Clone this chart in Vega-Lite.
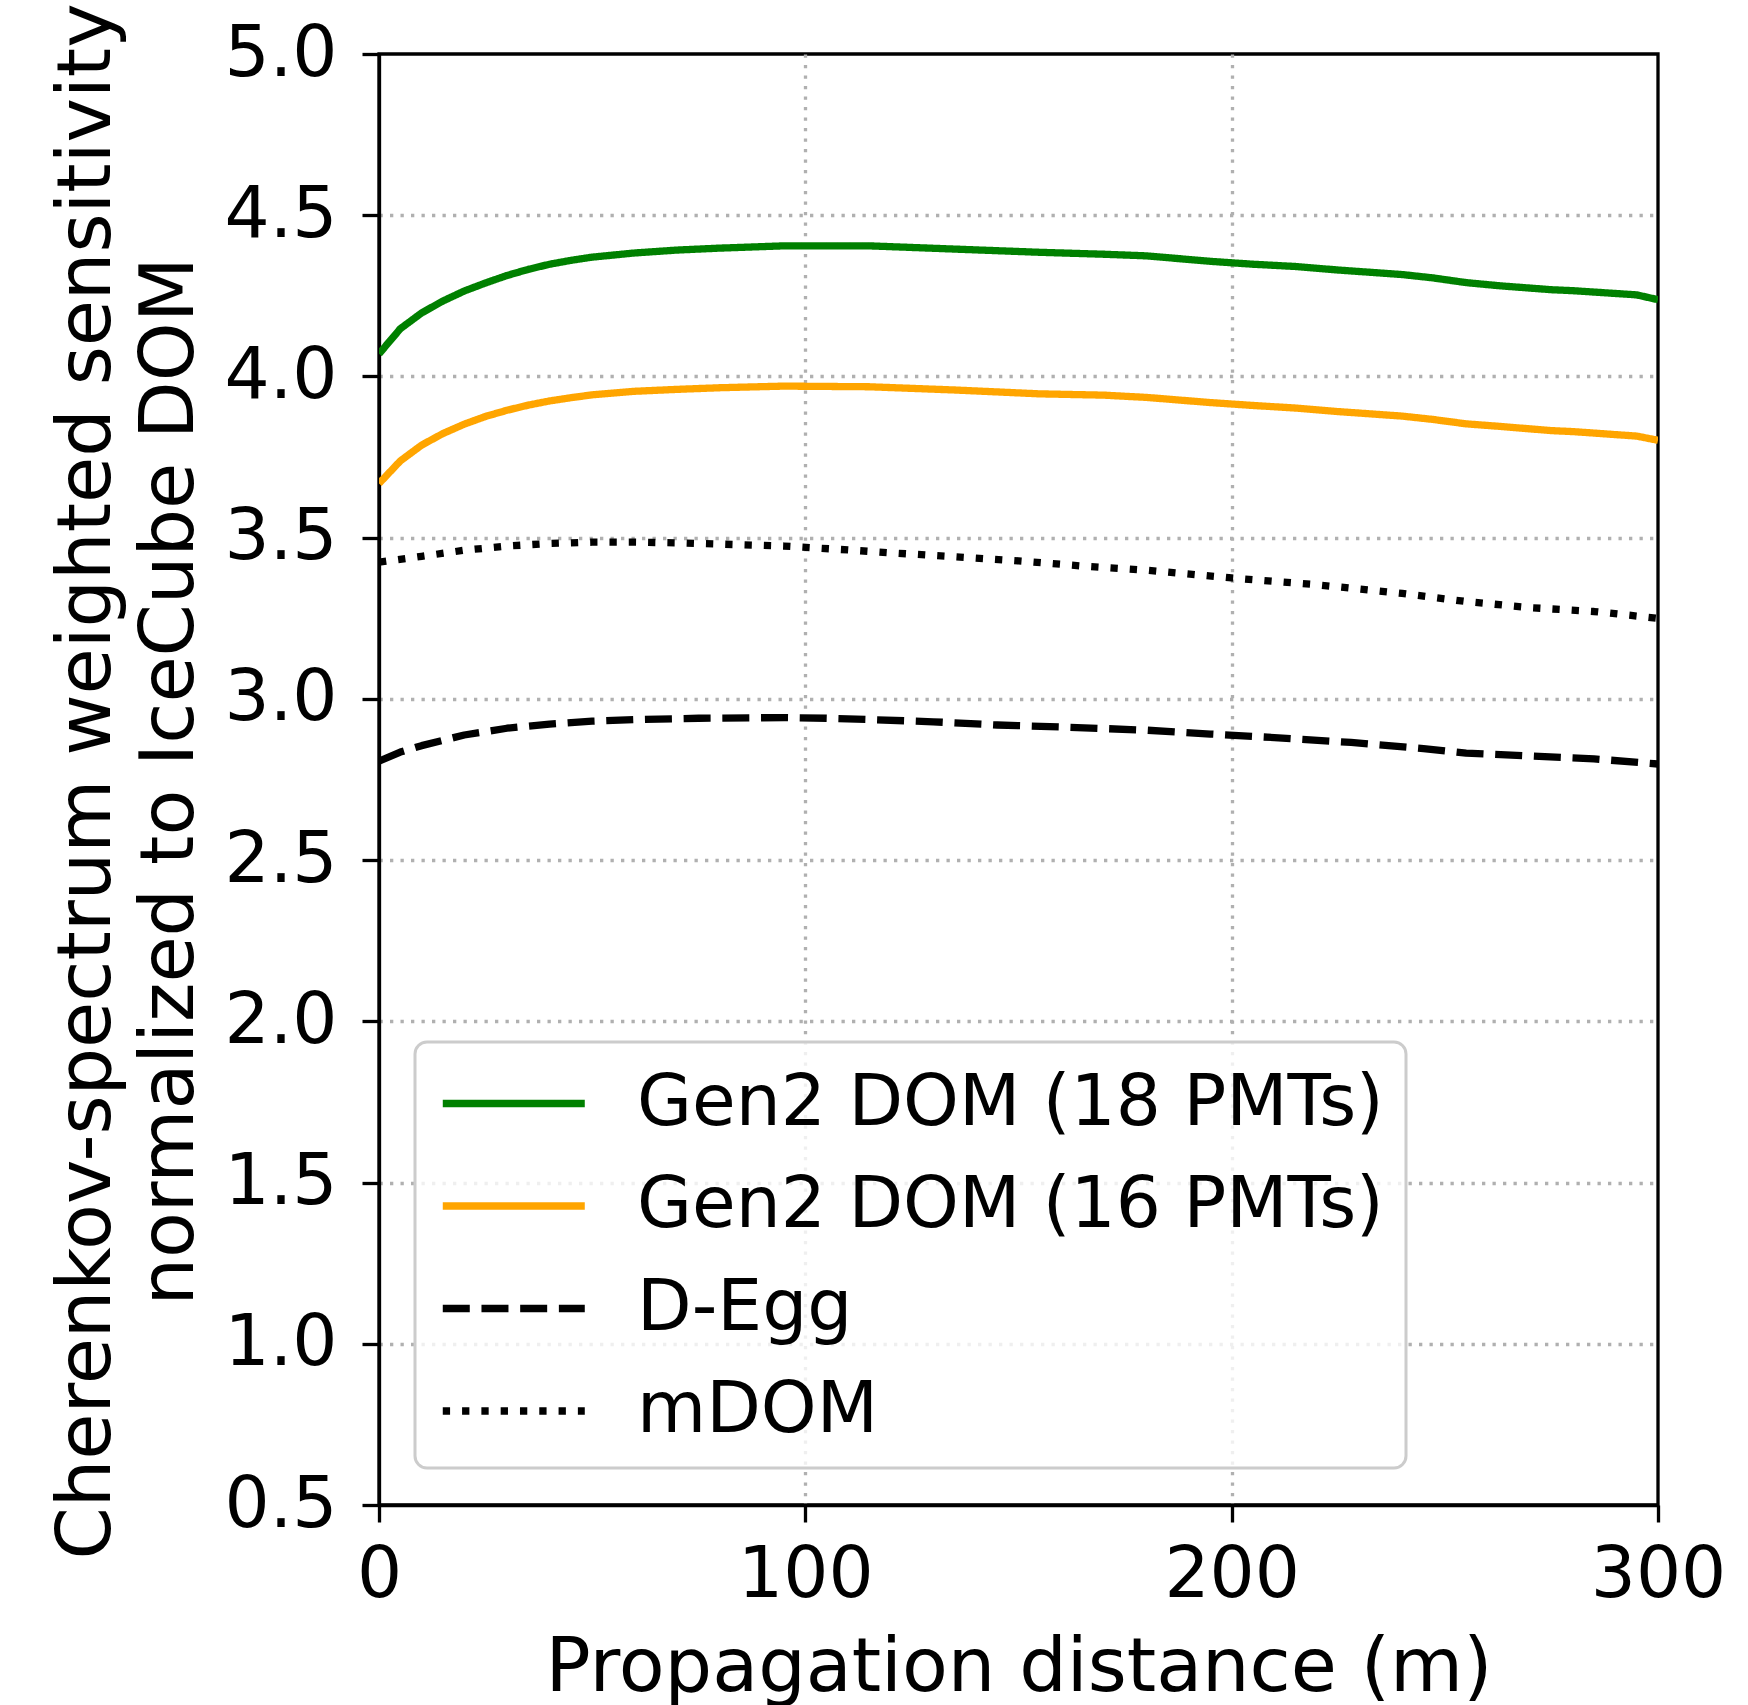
{
  "$schema": "https://vega.github.io/schema/vega-lite/v6.json",
  "width": 1279,
  "height": 1451,
  "autosize": {"type": "none"},
  "padding": {"left": 379, "top": 54, "right": 90, "bottom": 200},
  "background": "white",
  "config": {
    "font": "DejaVu Sans",
    "view": {"stroke": "black", "strokeWidth": 3.3},
    "legend": {"strokeWidth": 3},
    "axis": {
      "domainColor": "black", "domainWidth": 3.3,
      "tickColor": "black", "tickWidth": 3.3, "tickSize": 17,
      "labelFont": "DejaVu Sans", "labelFontSize": 71, "labelColor": "black",
      "titleFont": "DejaVu Sans", "titleFontSize": 75, "titleColor": "black", "titleFontWeight": "normal",
      "gridColor": "#b0b0b0", "gridWidth": 3.3, "gridDash": [3.3, 7.2]
    }
  },
  "datasets": {
    "curves": [
      {"d": 0, "v": 4.07, "s": "Gen2 DOM (18 PMTs)"},
      {"d": 5, "v": 4.148, "s": "Gen2 DOM (18 PMTs)"},
      {"d": 10, "v": 4.197, "s": "Gen2 DOM (18 PMTs)"},
      {"d": 15, "v": 4.234, "s": "Gen2 DOM (18 PMTs)"},
      {"d": 20, "v": 4.265, "s": "Gen2 DOM (18 PMTs)"},
      {"d": 25, "v": 4.29, "s": "Gen2 DOM (18 PMTs)"},
      {"d": 30, "v": 4.313, "s": "Gen2 DOM (18 PMTs)"},
      {"d": 35, "v": 4.332, "s": "Gen2 DOM (18 PMTs)"},
      {"d": 40, "v": 4.348, "s": "Gen2 DOM (18 PMTs)"},
      {"d": 45, "v": 4.36, "s": "Gen2 DOM (18 PMTs)"},
      {"d": 50, "v": 4.37, "s": "Gen2 DOM (18 PMTs)"},
      {"d": 60, "v": 4.383, "s": "Gen2 DOM (18 PMTs)"},
      {"d": 70, "v": 4.392, "s": "Gen2 DOM (18 PMTs)"},
      {"d": 80, "v": 4.398, "s": "Gen2 DOM (18 PMTs)"},
      {"d": 95, "v": 4.405, "s": "Gen2 DOM (18 PMTs)"},
      {"d": 115, "v": 4.405, "s": "Gen2 DOM (18 PMTs)"},
      {"d": 135, "v": 4.395, "s": "Gen2 DOM (18 PMTs)"},
      {"d": 155, "v": 4.385, "s": "Gen2 DOM (18 PMTs)"},
      {"d": 170, "v": 4.379, "s": "Gen2 DOM (18 PMTs)"},
      {"d": 180, "v": 4.374, "s": "Gen2 DOM (18 PMTs)"},
      {"d": 195, "v": 4.357, "s": "Gen2 DOM (18 PMTs)"},
      {"d": 205, "v": 4.348, "s": "Gen2 DOM (18 PMTs)"},
      {"d": 215, "v": 4.341, "s": "Gen2 DOM (18 PMTs)"},
      {"d": 225, "v": 4.33, "s": "Gen2 DOM (18 PMTs)"},
      {"d": 240, "v": 4.316, "s": "Gen2 DOM (18 PMTs)"},
      {"d": 247, "v": 4.306, "s": "Gen2 DOM (18 PMTs)"},
      {"d": 255, "v": 4.291, "s": "Gen2 DOM (18 PMTs)"},
      {"d": 263, "v": 4.281, "s": "Gen2 DOM (18 PMTs)"},
      {"d": 275, "v": 4.269, "s": "Gen2 DOM (18 PMTs)"},
      {"d": 280, "v": 4.266, "s": "Gen2 DOM (18 PMTs)"},
      {"d": 295, "v": 4.253, "s": "Gen2 DOM (18 PMTs)"},
      {"d": 300, "v": 4.238, "s": "Gen2 DOM (18 PMTs)"},
      {"d": 0, "v": 3.668, "s": "Gen2 DOM (16 PMTs)"},
      {"d": 5, "v": 3.738, "s": "Gen2 DOM (16 PMTs)"},
      {"d": 10, "v": 3.787, "s": "Gen2 DOM (16 PMTs)"},
      {"d": 15, "v": 3.823, "s": "Gen2 DOM (16 PMTs)"},
      {"d": 20, "v": 3.852, "s": "Gen2 DOM (16 PMTs)"},
      {"d": 25, "v": 3.876, "s": "Gen2 DOM (16 PMTs)"},
      {"d": 30, "v": 3.895, "s": "Gen2 DOM (16 PMTs)"},
      {"d": 35, "v": 3.911, "s": "Gen2 DOM (16 PMTs)"},
      {"d": 40, "v": 3.924, "s": "Gen2 DOM (16 PMTs)"},
      {"d": 45, "v": 3.934, "s": "Gen2 DOM (16 PMTs)"},
      {"d": 50, "v": 3.943, "s": "Gen2 DOM (16 PMTs)"},
      {"d": 60, "v": 3.954, "s": "Gen2 DOM (16 PMTs)"},
      {"d": 70, "v": 3.96, "s": "Gen2 DOM (16 PMTs)"},
      {"d": 80, "v": 3.965, "s": "Gen2 DOM (16 PMTs)"},
      {"d": 95, "v": 3.97, "s": "Gen2 DOM (16 PMTs)"},
      {"d": 115, "v": 3.968, "s": "Gen2 DOM (16 PMTs)"},
      {"d": 135, "v": 3.958, "s": "Gen2 DOM (16 PMTs)"},
      {"d": 155, "v": 3.946, "s": "Gen2 DOM (16 PMTs)"},
      {"d": 170, "v": 3.942, "s": "Gen2 DOM (16 PMTs)"},
      {"d": 180, "v": 3.935, "s": "Gen2 DOM (16 PMTs)"},
      {"d": 195, "v": 3.919, "s": "Gen2 DOM (16 PMTs)"},
      {"d": 205, "v": 3.91, "s": "Gen2 DOM (16 PMTs)"},
      {"d": 215, "v": 3.902, "s": "Gen2 DOM (16 PMTs)"},
      {"d": 225, "v": 3.891, "s": "Gen2 DOM (16 PMTs)"},
      {"d": 240, "v": 3.877, "s": "Gen2 DOM (16 PMTs)"},
      {"d": 247, "v": 3.867, "s": "Gen2 DOM (16 PMTs)"},
      {"d": 255, "v": 3.853, "s": "Gen2 DOM (16 PMTs)"},
      {"d": 263, "v": 3.845, "s": "Gen2 DOM (16 PMTs)"},
      {"d": 275, "v": 3.832, "s": "Gen2 DOM (16 PMTs)"},
      {"d": 280, "v": 3.829, "s": "Gen2 DOM (16 PMTs)"},
      {"d": 295, "v": 3.815, "s": "Gen2 DOM (16 PMTs)"},
      {"d": 300, "v": 3.802, "s": "Gen2 DOM (16 PMTs)"},
      {"d": 0, "v": 2.807, "s": "D-Egg"},
      {"d": 5, "v": 2.835, "s": "D-Egg"},
      {"d": 10, "v": 2.855, "s": "D-Egg"},
      {"d": 20, "v": 2.888, "s": "D-Egg"},
      {"d": 30, "v": 2.909, "s": "D-Egg"},
      {"d": 40, "v": 2.922, "s": "D-Egg"},
      {"d": 50, "v": 2.931, "s": "D-Egg"},
      {"d": 60, "v": 2.936, "s": "D-Egg"},
      {"d": 75, "v": 2.94, "s": "D-Egg"},
      {"d": 95, "v": 2.942, "s": "D-Egg"},
      {"d": 105, "v": 2.94, "s": "D-Egg"},
      {"d": 115, "v": 2.936, "s": "D-Egg"},
      {"d": 130, "v": 2.929, "s": "D-Egg"},
      {"d": 145, "v": 2.919, "s": "D-Egg"},
      {"d": 160, "v": 2.913, "s": "D-Egg"},
      {"d": 180, "v": 2.903, "s": "D-Egg"},
      {"d": 195, "v": 2.891, "s": "D-Egg"},
      {"d": 210, "v": 2.88, "s": "D-Egg"},
      {"d": 228, "v": 2.865, "s": "D-Egg"},
      {"d": 245, "v": 2.846, "s": "D-Egg"},
      {"d": 255, "v": 2.832, "s": "D-Egg"},
      {"d": 270, "v": 2.823, "s": "D-Egg"},
      {"d": 285, "v": 2.814, "s": "D-Egg"},
      {"d": 300, "v": 2.798, "s": "D-Egg"},
      {"d": 0, "v": 3.424, "s": "mDOM"},
      {"d": 10, "v": 3.442, "s": "mDOM"},
      {"d": 20, "v": 3.461, "s": "mDOM"},
      {"d": 30, "v": 3.474, "s": "mDOM"},
      {"d": 40, "v": 3.482, "s": "mDOM"},
      {"d": 50, "v": 3.486, "s": "mDOM"},
      {"d": 60, "v": 3.486, "s": "mDOM"},
      {"d": 70, "v": 3.484, "s": "mDOM"},
      {"d": 80, "v": 3.48, "s": "mDOM"},
      {"d": 95, "v": 3.474, "s": "mDOM"},
      {"d": 110, "v": 3.462, "s": "mDOM"},
      {"d": 120, "v": 3.453, "s": "mDOM"},
      {"d": 135, "v": 3.441, "s": "mDOM"},
      {"d": 150, "v": 3.428, "s": "mDOM"},
      {"d": 165, "v": 3.412, "s": "mDOM"},
      {"d": 180, "v": 3.399, "s": "mDOM"},
      {"d": 200, "v": 3.375, "s": "mDOM"},
      {"d": 220, "v": 3.354, "s": "mDOM"},
      {"d": 240, "v": 3.327, "s": "mDOM"},
      {"d": 255, "v": 3.302, "s": "mDOM"},
      {"d": 270, "v": 3.283, "s": "mDOM"},
      {"d": 285, "v": 3.271, "s": "mDOM"},
      {"d": 300, "v": 3.25, "s": "mDOM"}
    ]
  },
  "data": {"name": "curves"},
  "mark": {"type": "line", "strokeWidth": 7.3, "strokeCap": "butt", "strokeJoin": "round", "clip": true},
  "encoding": {
    "x": {
      "field": "d", "type": "quantitative",
      "scale": {"domain": [0, 300], "nice": false, "zero": false},
      "axis": {
        "values": [0, 100, 200, 300], "format": "d",
        "labelPadding": 18, "labelFlush": false,
        "gridOpacity": {"condition": {"test": "datum.value === 0 || datum.value === 300", "value": 0}, "value": 1},
        "title": "Propagation distance (m)",
        "titleBaseline": "alphabetic", "titleY": 185, "titlePadding": 0
      }
    },
    "y": {
      "field": "v", "type": "quantitative",
      "scale": {"domain": [0.5, 5.0], "nice": false, "zero": false},
      "axis": {
        "values": [0.5, 1.0, 1.5, 2.0, 2.5, 3.0, 3.5, 4.0, 4.5, 5.0], "format": ".1f",
        "labelPadding": 25, "labelFlush": false,
        "gridOpacity": {"condition": {"test": "datum.value <= 0.5 || datum.value >= 5", "value": 0}, "value": 1},
        "title": ["Cherenkov-spectrum weighted sensitivity", "normalized to IceCube DOM"],
        "titleAngle": -90, "titleBaseline": "alphabetic", "titleAlign": "center",
        "titleX": -270, "titleY": 727, "titleLineHeight": 83
      }
    },
    "color": {
      "field": "s", "type": "nominal",
      "scale": {
        "domain": ["Gen2 DOM (18 PMTs)", "Gen2 DOM (16 PMTs)", "D-Egg", "mDOM"],
        "range": ["#008000", "#FFA500", "#000000", "#000000"]
      },
      "legend": {
        "title": null, "orient": "none", "legendX": 36, "legendY": 988,
        "fillColor": "rgba(255,255,255,0.8)", "strokeColor": "#cccccc", "cornerRadius": 12,
        "padding": 22, "symbolType": "M-0.95,0H3.05", "symbolSize": 5041, "symbolStrokeWidth": 7.3,
        "labelFontSize": 71, "labelFont": "DejaVu Sans", "labelColor": "black", "labelLimit": 2000,
        "labelOffset": 121, "rowPadding": 27.5, "symbolOpacity": 1
      }
    },
    "strokeDash": {
      "field": "s", "type": "nominal",
      "scale": {
        "domain": ["Gen2 DOM (18 PMTs)", "Gen2 DOM (16 PMTs)", "D-Egg", "mDOM"],
        "range": [[1, 0], [1, 0], [27, 11.7], [7.3, 12]]
      },
      "legend": null
    }
  }
}
